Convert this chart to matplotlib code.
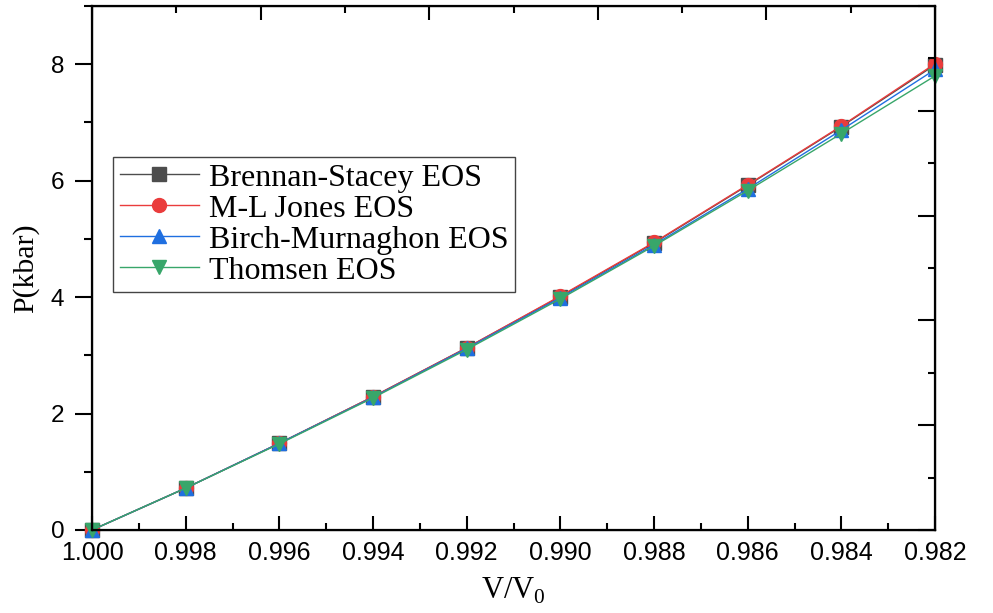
import numpy as np
import matplotlib
matplotlib.use("Agg")
import matplotlib.pyplot as plt
from matplotlib.ticker import MultipleLocator

# V/V0 values and pressure in kbar for each equation of state
v_ratio = [1.000, 0.998, 0.996, 0.994, 0.992, 0.990, 0.988, 0.986, 0.984, 0.982]
p_brennan = [0.0, 0.72, 1.49, 2.29, 3.13, 4.01, 4.93, 5.92, 6.93, 7.99]
p_jones = [0.0, 0.72, 1.49, 2.29, 3.13, 4.02, 4.94, 5.93, 6.94, 8.01]
p_birch = [0.0, 0.72, 1.49, 2.28, 3.12, 3.99, 4.90, 5.86, 6.87, 7.91]
p_thomsen = [0.0, 0.72, 1.48, 2.27, 3.10, 3.97, 4.88, 5.83, 6.81, 7.80]

labels = ["Brennan-Stacey EOS", "M-L Jones EOS", "Birch-Murnaghon EOS", "Thomsen EOS"]
colors = ["#4d4d4d", "#ea3c3c", "#1f6fe0", "#38a66a"]
markers = ["s", "o", "^", "v"]

fig = plt.figure(figsize=(9.93, 6.13), dpi=100)
ax = fig.add_axes([0.0927, 0.1354, 0.849, 0.8548])

series = [p_brennan, p_jones, p_birch, p_thomsen]
for p, lab, c, m in zip(series, labels, colors, markers):
    ax.plot(v_ratio, p, color=c, marker=m, markersize=10, linewidth=1.0,
            label=lab, clip_on=False)

ax.set_xlim(1.000, 0.982)
ax.set_ylim(0, 9)
ax.xaxis.set_major_locator(MultipleLocator(0.002))
ax.xaxis.set_minor_locator(MultipleLocator(0.001))
ax.yaxis.set_major_locator(MultipleLocator(2))
ax.yaxis.set_minor_locator(MultipleLocator(1))
ax.xaxis.set_major_formatter(matplotlib.ticker.FormatStrFormatter("%.3f"))

ax.tick_params(axis="x", which="major", direction="in", length=10, width=1.5,
               labelsize=18, pad=8)
ax.tick_params(axis="x", which="minor", direction="in", length=5, width=1.5)
ax.tick_params(axis="y", which="major", direction="out", length=12, width=1.5,
               labelsize=17.5, pad=8)
ax.tick_params(axis="y", which="minor", direction="out", length=6, width=1.5)
for lab in ax.get_xticklabels() + ax.get_yticklabels():
    lab.set_family("Liberation Sans")

for s in ax.spines.values():
    s.set_linewidth(1.6)

ax.set_xlabel("V/V$_\\mathregular{0}$", family="Liberation Serif", fontsize=22, labelpad=8)
ax.set_ylabel("P(kbar)", family="Liberation Serif", fontsize=21.5, labelpad=8)

# extra tick-only axes on the right and top
axr = ax.twinx()
axr.set_ylim(0, 10)
axr.yaxis.set_major_locator(MultipleLocator(2))
axr.yaxis.set_minor_locator(MultipleLocator(1))
axr.tick_params(axis="y", which="major", direction="in", length=12, width=1.5, labelright=False)
axr.tick_params(axis="y", which="minor", direction="in", length=5, width=1.5)

axt = ax.twiny()
axt.set_xlim(0, 10)
axt.xaxis.set_major_locator(MultipleLocator(2))
axt.xaxis.set_minor_locator(MultipleLocator(1))
axt.tick_params(axis="x", which="major", direction="in", length=10, width=1.5, labeltop=False)
axt.tick_params(axis="x", which="minor", direction="in", length=5, width=1.5)

leg = ax.legend(loc="upper left", bbox_to_anchor=(0.025, 0.712), borderaxespad=0,
                prop={"family": "Liberation Serif", "size": 23},
                handlelength=2.5, handletextpad=0.3, labelspacing=0.05,
                borderpad=0.2, frameon=True, fancybox=False, framealpha=1)
leg.get_frame().set_edgecolor("#444444")
leg.get_frame().set_linewidth(1.0)
leg.set_zorder(5)

fig.savefig("out.png", dpi=100)
